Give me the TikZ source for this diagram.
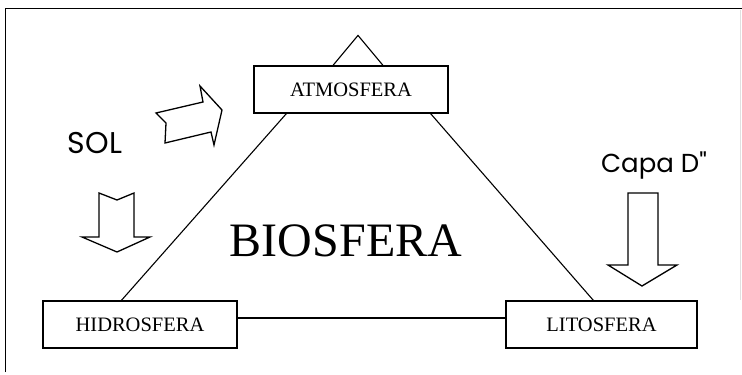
\documentclass[tikz,border=0pt]{standalone}
\usepackage{fontspec}
\setmainfont{Liberation Serif}
\newfontfamily\handfont{Poppins}
\begin{document}
\begin{tikzpicture}[x=1pt,y=-1pt,line width=1.1pt,line join=miter,
  box/.style={draw,line width=1.2pt,minimum height=47pt,inner sep=0pt,
    font=\fontsize{20.5}{20.5}\selectfont},
  side/.style={draw,line width=1.1pt},
  bigarrow/.style={draw,line width=1.3pt,line join=miter,fill=white},
  hand/.style={font=\handfont,inner sep=0pt}]
\useasboundingbox (0,0) rectangle (742,375);
% frame
\draw[line width=1pt] (5,372) -- (5,8) -- (742,8);
\draw[line width=0.4pt,black!12] (740,10) -- (740,300);
% boxes
\node[box,minimum width=194pt] (atm) at (351,89.5) {ATMOSFERA};
\node[box,minimum width=194pt] (hid) at (140,324.5) {HIDROSFERA};
\node[box,minimum width=191pt] (lit) at (601.5,324.5) {LITOSFERA};
% small triangle on top of atmosfera
\draw[side] ([xshift=-18pt]atm.north) -- ++(25,-30) -- ++(25,30);
% triangle sides
\draw[side] ([xshift=33pt]atm.south west) -- ([xshift=79pt]hid.north west);
\draw[side] ([xshift=-18pt]atm.south east) -- ([xshift=88pt]lit.north west);
\draw[side] ([yshift=6.5pt]hid.east) -- ([yshift=6.5pt]lit.west);
% texts
\node[font=\fontsize{48}{48}\selectfont,inner sep=0pt] (bio) at (346,241) {BIOSFERA};
\node[hand,font=\handfont\fontsize{30}{30}\selectfont] (sol) at (95,143) {SOL};
\node[hand,font=\handfont\fontsize{26}{26}\selectfont] (capa) at (654,166) {Capa D"};
% sun arrow (tilted right)
\draw[bigarrow] (156,113) -- (166,123) -- (165,143) -- (211,132) -- (214,145)
  -- (222,110) -- (200,86) -- (203,102) -- cycle;
% down arrow left
\draw[bigarrow] (99,193) -- (117,200) -- (134,193) -- (134,237) -- (150,237)
  -- (117,252) -- (82,237) -- (99,237) -- cycle;
% down arrow right
\draw[bigarrow] (628,193) -- (658,193) -- (658,265) -- (677,265)
  -- (642,286) -- (608,265) -- (628,265) -- cycle;
\end{tikzpicture}
\end{document}
